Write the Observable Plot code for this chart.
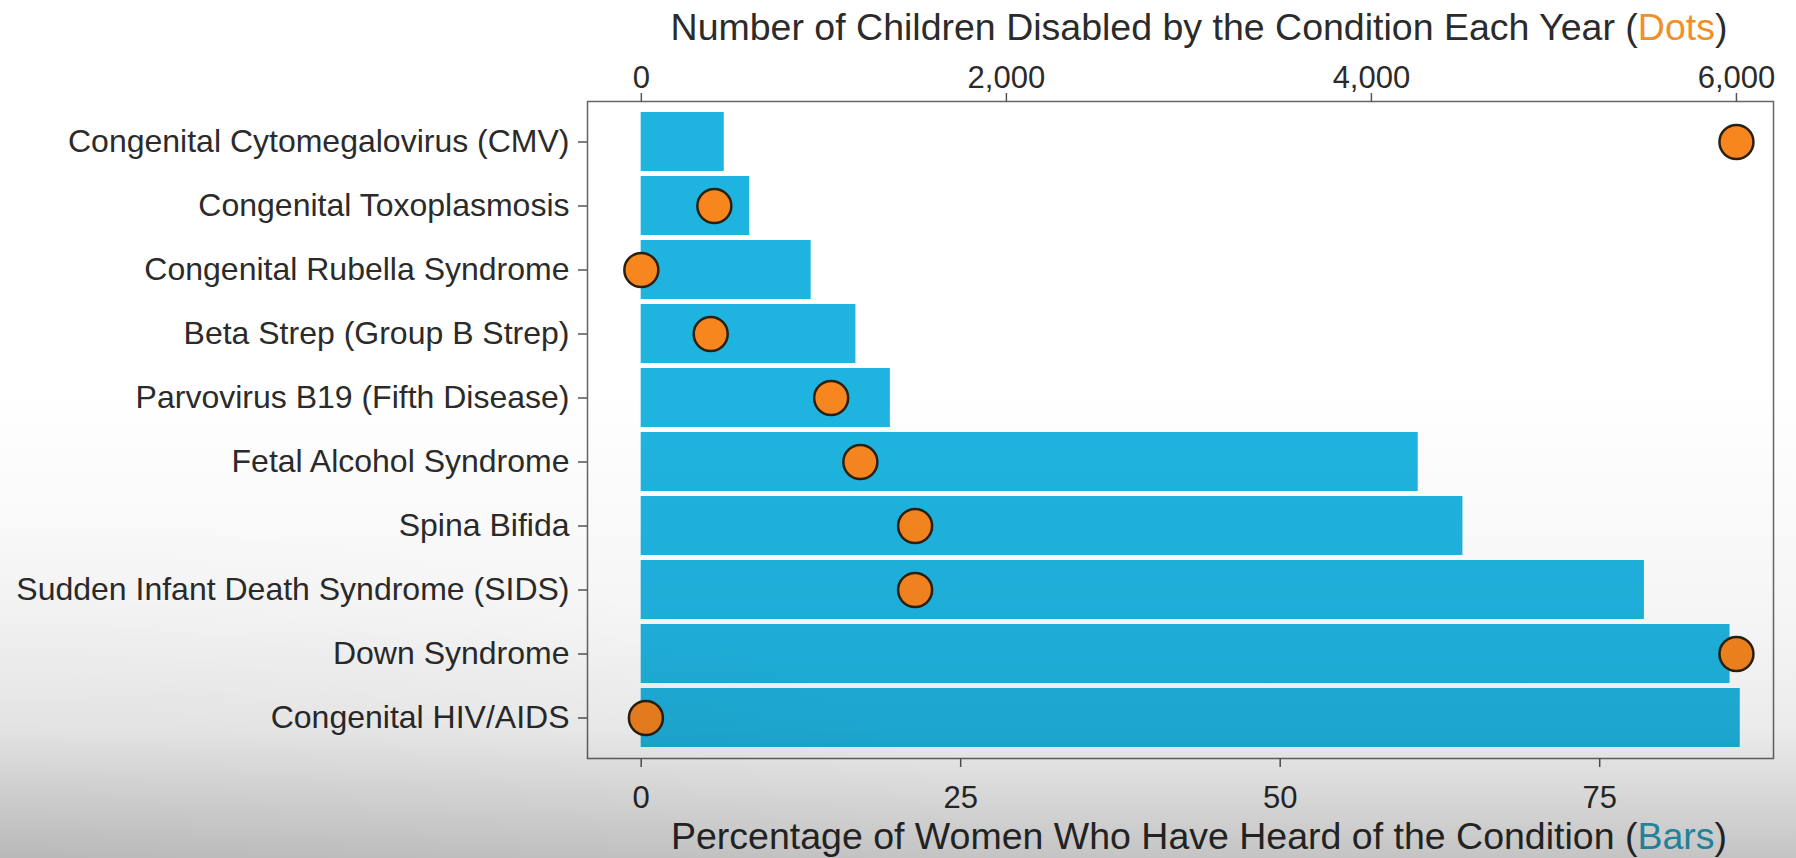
<!DOCTYPE html>
<html>
<head>
<meta charset="utf-8">
<script src="https://cdn.jsdelivr.net/npm/d3@7"></script>
<script src="https://cdn.jsdelivr.net/npm/@observablehq/plot@0.6"></script>
<style>
  html, body { margin: 0; padding: 0; background: #ffffff; }
  #wrap { position: relative; width: 1796px; height: 858px; overflow: hidden; }
  #shade {
    position: absolute; left: 0; top: 0; width: 1796px; height: 858px; pointer-events: none;
    background:
      radial-gradient(ellipse 55% 40% at 0% 100%, rgba(0,0,0,0.06), rgba(0,0,0,0) 100%),
      linear-gradient(to bottom, rgba(0,0,0,0) 0%, rgba(0,0,0,0) 45%, rgba(0,0,0,0.04) 72%, rgba(0,0,0,0.08) 85%, rgba(0,0,0,0.23) 100%);
  }
</style>
</head>
<body>
<div id="wrap"><div id="chart"></div><div id="shade"></div></div>
<script>
// ---- data ----
const conditions = [
  "Congenital Cytomegalovirus (CMV)",
  "Congenital Toxoplasmosis",
  "Congenital Rubella Syndrome",
  "Beta Strep (Group B Strep)",
  "Parvovirus B19 (Fifth Disease)",
  "Fetal Alcohol Syndrome",
  "Spina Bifida",
  "Sudden Infant Death Syndrome (SIDS)",
  "Down Syndrome",
  "Congenital HIV/AIDS"
];
const pctHeard = [6.5, 8.5, 13.3, 16.8, 19.5, 60.8, 64.3, 78.5, 85.2, 86.0];
const childrenDisabled = [6000, 400, 0, 380, 1040, 1200, 1500, 1500, 6000, 25];
const pctTicks = [0, 25, 50, 75];
const countTicks = [0, 2000, 4000, 6000];
const pctDomain = [-4.2, 88.6];
const countDomain = [-295, 6203];

const topTitle = "Number of Children Disabled by the Condition Each Year";
const topKey = "Dots";
const bottomTitle = "Percentage of Women Who Have Heard of the Condition";
const bottomKey = "Bars";

// secondary (top) axis maps linearly onto the primary x scale
const toPct = c => pctDomain[0] + (c - countDomain[0]) * (pctDomain[1] - pctDomain[0]) / (countDomain[1] - countDomain[0]);
const fromPct = p => countDomain[0] + (p - pctDomain[0]) * (countDomain[1] - countDomain[0]) / (pctDomain[1] - pctDomain[0]);

const data = conditions.map((c, i) => ({cond: c, pct: pctHeard[i], count: childrenDisabled[i]}));

const chart = Plot.plot({
  width: 1796,
  height: 858,
  marginLeft: 587,
  marginRight: 23,
  marginTop: 101,
  marginBottom: 100,
  style: {fontFamily: "'Liberation Sans', Arial, sans-serif", fontSize: "31px", color: "#2b2b2b", background: "transparent"},
  x: {domain: pctDomain},
  y: {type: "band", domain: conditions, paddingInner: 0.08, paddingOuter: 0.135},
  marks: [
    Plot.barX(data, {x: "pct", y: "cond", fill: "#1fb4e0"}),
    Plot.dot(data, {x: d => toPct(d.count), y: "cond", r: 17, fill: "#f7861f", stroke: "#2a2010", strokeWidth: 2.5}),
    Plot.frame({stroke: "#666", strokeWidth: 1.5}),
    Plot.axisY({tickSize: 9, tickPadding: 9, label: null, stroke: "#555", strokeWidth: 1.5, fill: "#2b2b2b", fontSize: 32}),
    Plot.axisX(pctTicks, {anchor: "bottom", tickSize: 9, tickPadding: 18, label: null, stroke: "#555", strokeWidth: 1.5, fill: "#2b2b2b", fontSize: 31}),
    Plot.axisX(countTicks.map(toPct), {anchor: "top", tickSize: 9, tickPadding: 5, label: null, stroke: "#555", strokeWidth: 1.5, fill: "#2b2b2b", fontSize: 31,
      tickFormat: d => d3.format(",")(Math.round(fromPct(d) / 10) * 10)})
  ]
});
document.getElementById("chart").appendChild(chart);

// axis titles with coloured keywords
const svg = d3.select(chart);
function title(y, main, key, color) {
  const t = svg.append("text")
    .attr("x", 1199).attr("y", y)
    .attr("text-anchor", "middle")
    .attr("fill", "#2b2b2b")
    .style("font-size", "37.5px");
  t.append("tspan").text(main + " (");
  t.append("tspan").attr("fill", color).text(key);
  t.append("tspan").text(")");
}
title(40, topTitle, topKey, "#f0902a");
title(849, bottomTitle, bottomKey, "#2aa3c0");
</script>
</body>
</html>
